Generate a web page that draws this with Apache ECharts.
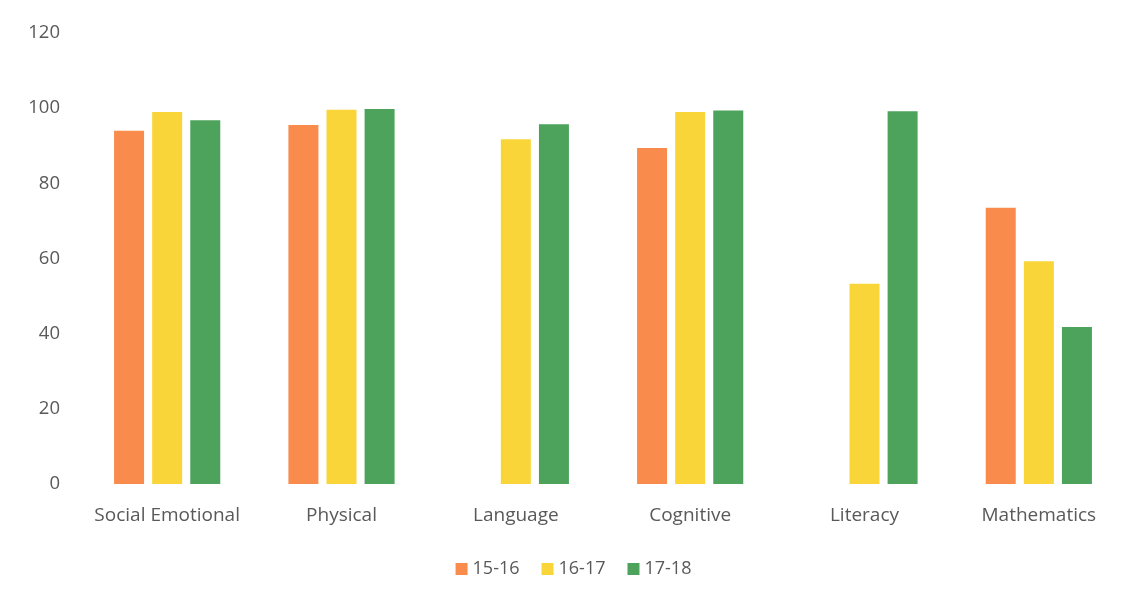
<!DOCTYPE html>
<html><head><meta charset="utf-8">
<script src="https://cdn.jsdelivr.net/npm/echarts@6/dist/echarts.min.js"></script>
<style>html,body{margin:0;padding:0;background:#fff}#c{width:1147px;height:602px}</style>
</head><body><div id="c"></div>
<script>
const categories = ["Social Emotional","Physical","Language","Cognitive","Literacy","Mathematics"];
const s1516 = [94, 95.5, null, 89.4, null, 73.5];
const s1617 = [99, 99.6, 91.7, 99, 53.3, 59.3];
const s1718 = [96.8, 99.8, 95.7, 99.4, 99.2, 41.8];
const seriesNames = ["15-16","16-17","17-18"];
const colors = ["#F98C4C","#F9D53A","#4DA35B"];
const font = "'Open Sans', sans-serif";
const chart = echarts.init(document.getElementById('c'));
chart.setOption({
  animation:false,
  grid:{left:80,right:21,top:33,bottom:118},
  legend:{bottom:19,left:'center',itemWidth:12,itemHeight:12,itemGap:22,icon:'rect',
    textStyle:{fontFamily:font,fontSize:18,color:'#595959'},data:seriesNames},
  xAxis:{type:'category',data:categories,axisLine:{show:false},axisTick:{show:false},
    axisLabel:{interval:0,hideOverlap:false,fontFamily:font,fontSize:19,color:'#595959',margin:22}},
  yAxis:{type:'value',min:0,max:120,interval:20,splitLine:{show:false},
    axisLabel:{fontFamily:font,fontSize:18.5,color:'#595959',margin:20}},
  series:[s1516,s1617,s1718].map((d,i)=>({name:seriesNames[i],type:'bar',data:d,
    barWidth:30,barGap:'27%',itemStyle:{color:colors[i]}}))
});
</script></body></html>
